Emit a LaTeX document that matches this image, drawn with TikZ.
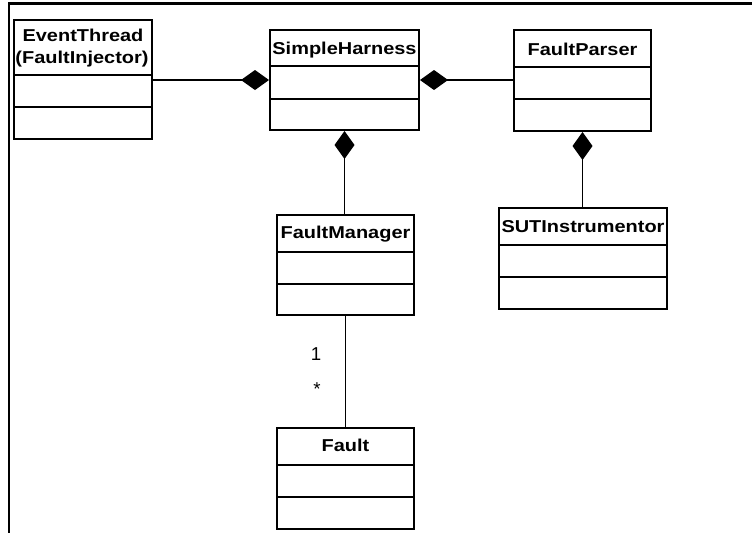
\documentclass[tikz,border=0pt]{standalone}
\usepackage{fontspec}
\usepackage{graphicx}
\setmainfont{Liberation Sans}
\usetikzlibrary{arrows.meta,fit}

% class names are set bold and slightly widened
\newcommand\clsname[1]{\scalebox{1.16}[1]{\bfseries #1}}

\begin{document}
\begin{tikzpicture}[x=0.75pt,y=-0.75pt,
  classbox/.style={draw, line width=1.5pt, inner sep=0pt},
  divider/.style={line width=1.5pt},
  title/.style={font=\fontsize{12.9}{15}\selectfont, text height=9.2pt, text depth=0pt, inner sep=0pt},
  assoc/.style={line width=1pt},
  comp/.style={{Diamond[length=21pt,width=15pt]}-},
  mult/.style={font=\fontsize{14}{16}\selectfont, inner sep=0pt, anchor=base},
  frameline/.style={line width=2.2pt, line join=miter}]
\useasboundingbox (0,0) rectangle (752,533);

% outer frame (top and left edges only)
\coordinate (frameTR) at (752,3.5);
\coordinate (frameTL) at (9,3.5);
\coordinate (frameBL) at (9,533);
\draw[frameline] (frameTR) -- (frameTL) -- (frameBL);

% EventThread (FaultInjector)
\node[classbox, fit={(14,20) (152,139)}] (et) {};
\draw[divider] (et.west |- 0,75) -- (et.east |- 0,75);
\draw[divider] (et.west |- 0,107) -- (et.east |- 0,107);
\node[title] (et-t1) at (83,35) {\clsname{EventThread}};
\node[title] (et-t2) at (82,57.5) {\clsname{(FaultInjector)}};

% SimpleHarness
\node[classbox, fit={(270,30) (419,130)}] (sh) {};
\draw[divider] (sh.west |- 0,66) -- (sh.east |- 0,66);
\draw[divider] (sh.west |- 0,99) -- (sh.east |- 0,99);
\node[title] (sh-t) at (344.5,48) {\clsname{SimpleHarness}};

% FaultParser
\node[classbox, fit={(514,30) (651,131)}] (fp) {};
\draw[divider] (fp.west |- 0,67) -- (fp.east |- 0,67);
\draw[divider] (fp.west |- 0,99) -- (fp.east |- 0,99);
\node[title] (fp-t) at (582.5,49) {\clsname{FaultParser}};

% FaultManager
\node[classbox, fit={(277,215) (414,315)}] (fm) {};
\draw[divider] (fm.west |- 0,252) -- (fm.east |- 0,252);
\draw[divider] (fm.west |- 0,284) -- (fm.east |- 0,284);
\node[title] (fm-t) at (345.5,232.5) {\clsname{FaultManager}};

% SUTInstrumentor
\node[classbox, fit={(499,208) (667,309)}] (sut) {};
\draw[divider] (sut.west |- 0,245) -- (sut.east |- 0,245);
\draw[divider] (sut.west |- 0,277) -- (sut.east |- 0,277);
\node[title] (sut-t) at (583,226) {\clsname{SUTInstrumentor}};

% Fault
\node[classbox, fit={(277,428) (414,529)}] (fault) {};
\draw[divider] (fault.west |- 0,465) -- (fault.east |- 0,465);
\draw[divider] (fault.west |- 0,497) -- (fault.east |- 0,497);
\node[title] (fault-t) at (345.5,445.5) {\clsname{Fault}};

% compositions
\draw[assoc, -{Diamond[length=21pt,width=15pt]}] (et.east |- sh.west) -- (sh.west);
\draw[assoc, comp] (sh.east) -- (sh.east -| fp.west);
\draw[assoc, comp] (sh.south) -- (sh.south |- fm.north);
\draw[assoc, comp] (fp.south) -- (fp.south |- sut.north);

% association FaultManager 1 -- * Fault
\draw[assoc] (fm.south) -- (fault.north);
\node[mult] (m-one) at (316,360) {1};
\node[mult] (m-many) at (317,395) {*};
\end{tikzpicture}
\end{document}
